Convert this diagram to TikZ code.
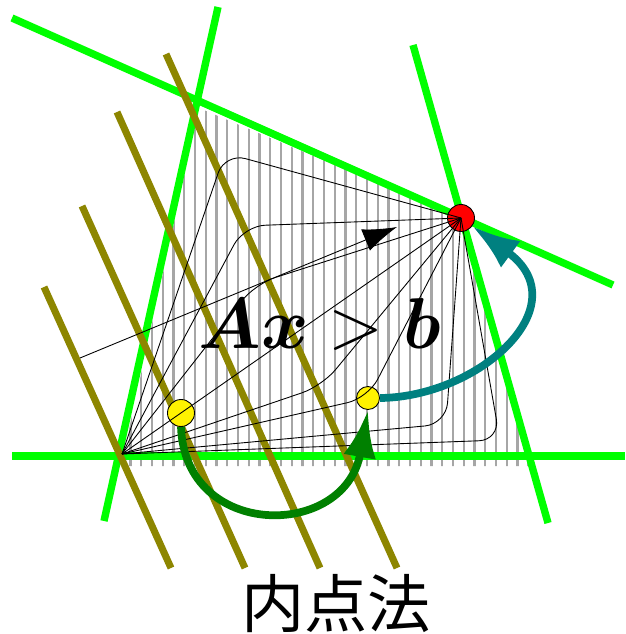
\RequirePackage{fix-cm}
\documentclass[tikz,border=0pt]{standalone}
\usepackage{fontspec}
\usepackage{bm}
\usepackage{tikz}
\usetikzlibrary{arrows.meta}
\newfontfamily\cjkfont{Noto Sans CJK JP}

\begin{document}
\begin{tikzpicture}[x=0.02cm, y=-0.02cm,
    constraint/.style={green, line width=4.2pt},
    levelset/.style={olive, line width=4pt},
    hatchline/.style={gray!70, line width=1.3pt},
    centralpath/.style={black, line width=0.5pt, rounded corners=12pt},
    iterate/.style={circle, draw=black, line width=0.5pt, inner sep=0pt, fill=yellow},
    jump/.style={line width=4.4pt, -{Latex[length=0.95cm, width=0.66cm]}}]
    \useasboundingbox (0,0) rectangle (625,634);

    % Feasible region (hatched)
    \begin{scope}
      \clip (199,108) -- (461,218) -- (533,466) -- (121,466) -- cycle;
      \foreach \k in {0,...,37}
        \draw[hatchline] ({130.5+10.75*\k},90) -- ++(0,380);
    \end{scope}

    % Constraints
    \draw[constraint] (12,18) -- (613,285);
    \draw[constraint] (12,456) -- (625,456);
    \draw[constraint] (218,7) -- (104,521);
    \draw[constraint] (413,45) -- (548,523);

    % Objective level sets
    \draw[levelset] (44,287) -- (171,568);
    \draw[levelset] (82,206) -- (245,568);
    \draw[levelset] (117,112) -- (320,568);
    \draw[levelset] (166,54) -- (397,568);

    % Iterates and optimum
    \coordinate (V) at (122,454);
    \node[iterate, minimum size=0.54cm] (y1) at (181,413) {};
    \node[iterate, minimum size=0.46cm] (y2) at (368,398) {};
    \node[iterate, fill=red, minimum size=0.54cm] (opt) at (461,218) {};

    % Central paths
    \foreach \cx/\cy in {225/153, 244/226, 255/284, 322/386, 446/424, 500/440}
      \draw[centralpath] (V) -- (\cx,\cy) -- (opt.center);
    \draw[centralpath] (V) -- (opt.center);
    \draw[centralpath] (V) -- (y2.center) -- (opt.center);

    % Objective direction
    \coordinate (cstart) at (80,358);
    \coordinate (cdir) at (397,227);
    \draw[centralpath, -{Latex[length=0.68cm, width=0.46cm]}] (cstart) -- (cdir);

    % Steps
    \draw[jump, green!50!black] (y1.south) .. controls (185,540) and (345,540) .. (y2.south);
    \draw[jump, teal] (y2.east) .. controls (480,397) and (580,305) .. (opt);

    % Labels
    \node[font=\fontsize{41}{41}\selectfont, anchor=base] (ineq) at (320,348) {$\bm{A}\bm{x} > \bm{b}$};
    \node[font=\cjkfont\fontsize{36}{36}\selectfont, anchor=base] (title) at (336,627) {内点法};
\end{tikzpicture}
\end{document}
